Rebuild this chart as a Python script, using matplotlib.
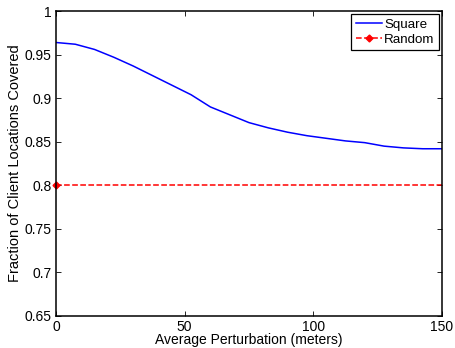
import matplotlib

matplotlib.use("Agg")
import matplotlib.pyplot as plt

# Average perturbation (meters) and fraction of client locations covered
PERTURBATION = [0, 7.5, 15, 22.5, 30, 37.5, 45, 52.5, 60, 67.5, 75,
                82.5, 90, 97.5, 105, 112.5, 120, 127.5, 135, 142.5, 150]
SQUARE = [0.964, 0.962, 0.956, 0.947, 0.937, 0.926, 0.915, 0.904, 0.890,
          0.881, 0.872, 0.866, 0.861, 0.857, 0.854, 0.851, 0.849, 0.845,
          0.843, 0.842, 0.842]
RANDOM_X = [0, 150]
RANDOM = [0.80, 0.80]

XTICKS = [0, 50, 100, 150]
YTICKS = [0.65, 0.7, 0.75, 0.8, 0.85, 0.9, 0.95, 1.0]
YTICK_LABELS = ["0.65", "0.7", "0.75", "0.8", "0.85", "0.9", "0.95", "1"]

plt.rcParams["font.family"] = ["Liberation Sans", "DejaVu Sans"]

fig = plt.figure(figsize=(4.56, 3.48), dpi=100)
ax = fig.add_axes([0.1228, 0.092, 0.8465, 0.876])

ax.plot(PERTURBATION, SQUARE, "-", color="#0000ff", lw=1.1, label="Square")
ax.plot(RANDOM_X, RANDOM, "--", color="#ff0000", lw=1.1, marker="D",
        markersize=3.5, markevery=[0], clip_on=False, label="Random")

ax.set_xlim(0, 150)
ax.set_ylim(0.65, 1.0)
ax.set_xticks(XTICKS)
ax.set_yticks(YTICKS)
ax.set_yticklabels(YTICK_LABELS)
ax.tick_params(direction="in", top=True, right=True, labelsize=10,
               length=3.5, width=0.6, pad=3)
for sp in ax.spines.values():
    sp.set_linewidth(1.1)

ax.set_xlabel("Average Perturbation (meters)", fontsize=10, labelpad=-1)
ax.set_ylabel("Fraction of Client Locations Covered", fontsize=10.5,
              labelpad=2)

leg = ax.legend(loc="upper right", fontsize=9.6, fancybox=False,
                framealpha=1, edgecolor="black", handlelength=2.0,
                borderaxespad=0.2, borderpad=0.35, labelspacing=0.2,
                handletextpad=0.15)
leg.get_frame().set_linewidth(0.9)

fig.savefig("out.png", dpi=100)
plt.close(fig)
